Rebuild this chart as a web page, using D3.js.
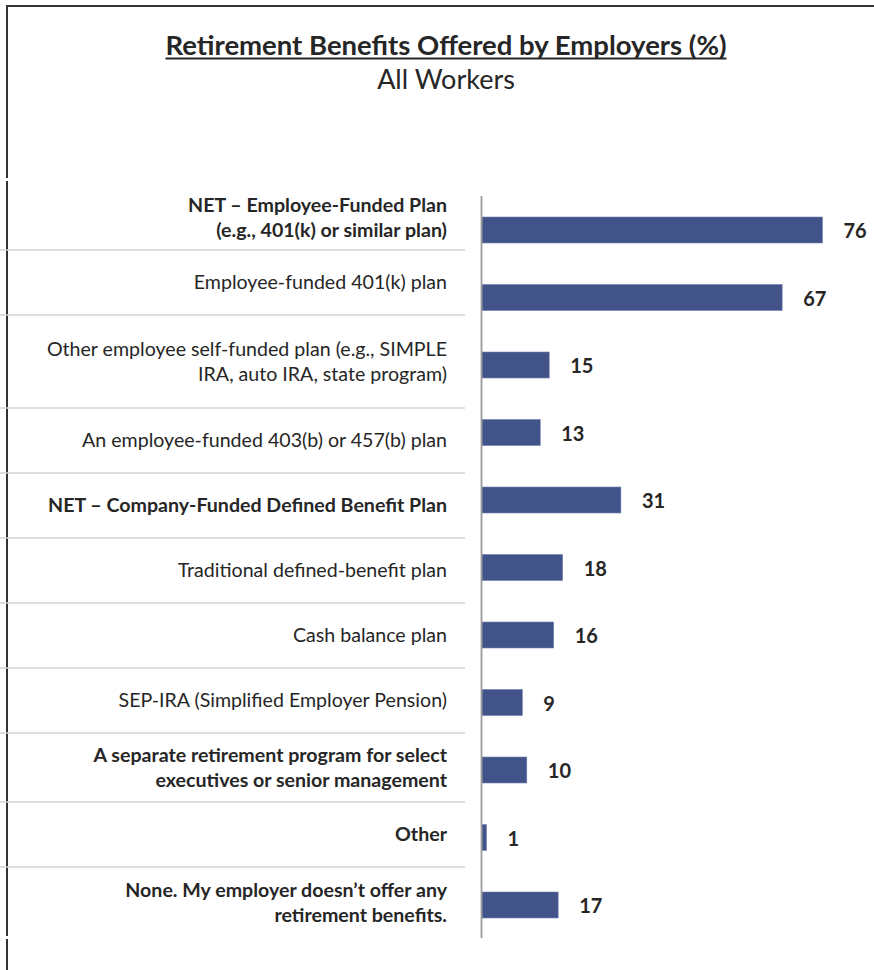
<!DOCTYPE html>
<html>
<head>
<meta charset="utf-8">
<script src="https://cdn.jsdelivr.net/npm/d3@7"></script>
<style>
  html, body { margin: 0; padding: 0; background: #fff; }
  svg { display: block; }
  text { font-family: Lato, "Open Sans", sans-serif; fill: #262626; }
</style>
</head>
<body>
<div id="chart"></div>
<script>
// ---- data ----
const categories = [
  ["NET \u2013 Employee-Funded Plan", "(e.g., 401(k) or similar plan)"],
  ["Employee-funded 401(k) plan"],
  ["Other employee self-funded plan (e.g., SIMPLE", "IRA, auto IRA, state program)"],
  ["An employee-funded 403(b) or 457(b) plan"],
  ["NET \u2013 Company-Funded Defined Benefit Plan"],
  ["Traditional defined-benefit plan"],
  ["Cash balance plan"],
  ["SEP-IRA (Simplified Employer Pension)"],
  ["A separate retirement program for select", "executives or senior management"],
  ["Other"],
  ["None. My employer doesn\u2019t offer any", "retirement benefits."]
];
const values = [76, 67, 15, 13, 31, 18, 16, 9, 10, 1, 17];
const boldRows = [0, 4, 8, 9, 10];
const titleText = "Retirement Benefits Offered by Employers (%)";
const subtitleText = "All Workers";

// ---- layout ----
const W = 874, H = 970;
const rowEdges = [185, 250, 315, 408, 473, 538, 603, 668, 733, 802, 867, 938];
const labelRight = 447;
const lineH = 25.5;

const svg = d3.select("#chart").append("svg").attr("width", W).attr("height", H);

// frame
const frame = svg.append("g").attr("stroke", "#333").attr("stroke-width", 2).attr("fill", "none");
frame.append("line").attr("x1", 6).attr("x2", W).attr("y1", 6).attr("y2", 6);
[[5, 178], [181, 936], [939, H]].forEach(([a, b]) =>
  frame.append("line").attr("x1", 7).attr("x2", 7).attr("y1", a).attr("y2", b));

// title
const title = svg.append("text").attr("x", 446).attr("y", 55).attr("text-anchor", "middle")
  .attr("font-size", 27.5).attr("font-weight", 700).text(titleText);
const tw = title.node().getComputedTextLength();
svg.append("line").attr("x1", 446 - tw / 2).attr("x2", 446 + tw / 2)
  .attr("y1", 58.5).attr("y2", 58.5).attr("stroke", "#262626").attr("stroke-width", 1.8);
svg.append("text").attr("x", 446).attr("y", 89).attr("text-anchor", "middle")
  .attr("font-size", 27).text(subtitleText);

// scales
const idx = d3.range(categories.length);
const y = d3.scaleBand().domain(idx).range([196.25, 938.75]).paddingInner(0.615).paddingOuter(0.3075);
const x = d3.scaleLinear().domain([0, 100]).range([482, 930]);

// separators
svg.append("g").selectAll("line").data(rowEdges.slice(1, -1)).join("line")
  .attr("x1", 0).attr("x2", 465).attr("y1", d => d).attr("y2", d => d)
  .attr("stroke", "#d4d4d4").attr("stroke-width", 1.5);

// category labels
const lab = svg.append("g").selectAll("text").data(idx).join("text")
  .attr("text-anchor", "end")
  .attr("font-size", 19.6)
  .attr("font-weight", i => boldRows.includes(i) ? 700 : 400)
  .attr("y", i => (rowEdges[i] + rowEdges[i + 1]) / 2 - (categories[i].length - 1) * lineH / 2)
  .attr("dy", "0.35em");
lab.selectAll("tspan").data(i => categories[i].map((t, k) => ({ t, k }))).join("tspan")
  .attr("x", labelRight)
  .attr("dy", d => d.k === 0 ? null : lineH)
  .text(d => d.t);

// bars
svg.append("g").selectAll("rect").data(idx).join("rect")
  .attr("x", x(0)).attr("y", i => y(i))
  .attr("width", i => x(values[i]) - x(0)).attr("height", y.bandwidth())
  .attr("fill", "#425389").attr("stroke", "#6f7fb0").attr("stroke-width", 0.6);

// axis line
svg.append("line").attr("x1", x(0) - 0.5).attr("x2", x(0) - 0.5)
  .attr("y1", 196).attr("y2", 938).attr("stroke", "#9a9a9a").attr("stroke-width", 1.8);

// value labels
svg.append("g").selectAll("text").data(idx).join("text")
  .attr("x", i => x(values[i]) + 21)
  .attr("y", i => y(i) + y.bandwidth() / 2 + 1)
  .attr("dy", "0.35em")
  .attr("font-size", 20).attr("font-weight", 700)
  .text(i => values[i]);
</script>
</body>
</html>
